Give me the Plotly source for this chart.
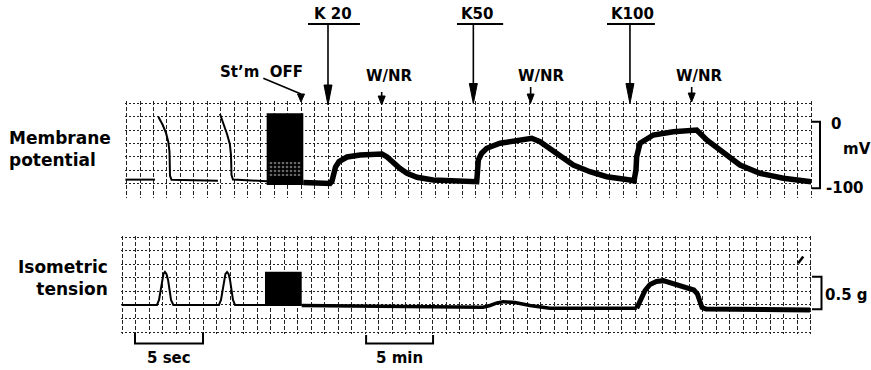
import plotly.graph_objects as go

W, H = 871, 370
FONT = "DejaVu Sans"

# ---------------- data (x in chart-paper divisions) ----------------
# Membrane potential (mV)
mp_fast_x = [-0.1, 2.11, None, 2.355, 2.667, 2.928, 3.100, 3.189, 3.227, 3.338, 6.80, None,
             6.952, 7.213, 7.474, 7.683, 7.772, 7.809, 7.921, 10.43, 13.16]
mp_fast_mv = [-87, -87, None, 7.5, -4.2, -16.8, -30.3, -45.3, -81.1, -87.2, -88.7, None,
              11.6, -2.0, -18.5, -33.5, -50.0, -80.0, -86.8, -89.5, -91.3]
mp_block_x = [10.43, 13.16]
mp_block_mv = [-95.0, 12.6]
mp_speckle_x = [10.55, 13.0]
mp_speckle_mv = [-82.0, -60.0]
mp_k_x = [13.16, 15.15, 15.30, 15.41, 15.56, 15.82, 16.42, 17.39, 18.65, 19.02, 19.40, 19.84,
          20.37, 20.89, 21.63, 22.82, 24.46, 26.08, 26.13, 26.20, 26.45, 26.83, 27.82, 29.06,
          30.18, 30.80, 31.30, 31.79, 32.29, 33.28, 34.52, 35.77, 37.50, 37.80, 37.95, 38.00,
          38.25, 38.75, 39.24, 40.73, 42.22, 42.47, 43.22, 44.46, 45.70, 47.19, 48.93, 51.0]
mp_k_mv = [-91.3, -92.8, -89.0, -78.5, -68.0, -59.8, -53.0, -50.0, -47.4, -48.5, -53.0, -62.0,
           -70.3, -77.5, -83.5, -87.5, -89.8, -90.1, -77.5, -57.5, -47.4, -39.9, -32.4, -27.5,
           -24.9, -30.0, -37.5, -45.0, -52.6, -65.0, -75.1, -82.6, -87.5, -89.0, -72.5, -52.6,
           -32.4, -24.9, -20.0, -15.0, -11.4, -12.5, -27.5, -47.4, -65.0, -77.5, -85.0, -90.1]

# Isometric tension (g)
ten_fast_x = [-0.05, 2.57, 2.72, 2.83, 2.94, 3.05, 3.16, 3.27, 3.39, 3.50, 3.61, 3.78,
              7.16, 7.31, 7.42, 7.53, 7.64, 7.76, 7.87, 7.98, 8.09, 8.20, 8.35, 10.57]
ten_fast_g = [0.066, 0.066, 0.143, 0.296, 0.450, 0.543, 0.572, 0.543, 0.450, 0.296, 0.143, 0.066,
              0.066, 0.143, 0.296, 0.450, 0.543, 0.572, 0.543, 0.450, 0.296, 0.143, 0.066, 0.066]
ten_block_x = [10.57, 13.29]
ten_block_g = [0.05, 0.577]
ten_base_x = [13.29, 20.57, 26.72, 27.24, 27.76, 28.23, 29.09, 30.20, 31.67, 38.11]
ten_base_g = [0.058, 0.043, 0.031, 0.058, 0.097, 0.117, 0.104, 0.058, 0.015, 0.015]
ten_k_x = [38.11, 38.35, 38.72, 39.09, 39.57, 40.07, 40.44, 41.06, 41.80, 42.34, 42.60, 42.75,
           42.94, 43.23, 50.94]
ten_k_g = [0.015, 0.127, 0.288, 0.380, 0.426, 0.439, 0.414, 0.373, 0.331, 0.296, 0.235, 0.112,
           0.028, 0.005, -0.011]
ten_mark_x = [50.07, 50.44]
ten_mark_g = [0.706, 0.808]

# Events (division positions) and labels
k_labels = ["K 20", "K50", "K100"]
k_x = [15.0, 25.83, 37.50]
k_bar = [(13.51, 17.38), (24.61, 28.05), (35.79, 39.36)]
wnr_x = [19.0, 30.1, 42.1]
stim_off_x = 12.99
scale_mv = [0, -100]
scale_g = [0.5, 0.0]
time_bars = [("5 sec", 0.94, 5.98), ("5 min", 18.06, 23.02)]

# ---------------- helpers for layout positions ----------------
def py(p):
    return 1 - p / H

def pxx(p):
    return p / W

DIV_TOP = 13.42

fig = go.Figure()

def line_trace(x, y, xa, ya, width):
    fig.add_trace(go.Scatter(x=x, y=y, mode="lines", xaxis=xa, yaxis=ya,
                             line=dict(color="black", width=width),
                             hoverinfo="skip", showlegend=False, connectgaps=False))

def rect_trace(xs, ys, xa, ya, pattern=None):
    x0, x1 = xs
    y0, y1 = ys
    kw = dict(x=[x0, x1, x1, x0, x0], y=[y0, y0, y1, y1, y0], mode="lines", fill="toself",
              xaxis=xa, yaxis=ya, line=dict(width=0, color="black"),
              hoverinfo="skip", showlegend=False, fillcolor="black")
    if pattern:
        kw["fillpattern"] = pattern
    fig.add_trace(go.Scatter(**kw))

# top panel
line_trace(mp_fast_x, mp_fast_mv, "x", "y", 2)
rect_trace(mp_block_x, mp_block_mv, "x", "y")
rect_trace(mp_speckle_x, mp_speckle_mv, "x", "y",
           pattern=dict(shape=".", bgcolor="black", fgcolor="#d0d0d0", size=4, solidity=0.35))
line_trace(mp_k_x, mp_k_mv, "x", "y", 5.5)

# bottom panel
line_trace(ten_fast_x, ten_fast_g, "x2", "y2", 2)
rect_trace(ten_block_x, ten_block_g, "x2", "y2")
line_trace(ten_base_x, ten_base_g, "x2", "y2", 3.5)
line_trace(ten_k_x, ten_k_g, "x2", "y2", 5)
line_trace(ten_mark_x, ten_mark_g, "x2", "y2", 2.5)

shapes = []
annotations = []

def txt(s, x, y, size=15, xanchor="center", align="center"):
    annotations.append(dict(text=s, x=pxx(x), y=py(y), xref="paper", yref="paper",
                            showarrow=False, xanchor=xanchor, yanchor="middle", align=align,
                            font=dict(family=FONT, size=size, color="black", weight="bold")))

def down_arrow(xd, y_tail, y_tip, head, half, lw=1.6):
    hw = half / DIV_TOP
    shapes.append(dict(type="line", xref="x", yref="paper", x0=xd, x1=xd,
                       y0=py(y_tail), y1=py(y_tip - head * 0.6),
                       line=dict(color="black", width=lw)))
    shapes.append(dict(type="path", xref="x", yref="paper",
                       path=f"M {xd - hw},{py(y_tip - head)} L {xd},{py(y_tip)} L {xd + hw},{py(y_tip - head)} Z",
                       fillcolor="black", line=dict(color="black", width=1)))

# K arrows
k_text_x = [332.5, 477, 632]
k_tips = [105, 103.5, 103.5]
for lab, xd, (b0, b1), tx, tip in zip(k_labels, k_x, k_bar, k_text_x, k_tips):
    txt(lab, tx, 14)
    shapes.append(dict(type="line", xref="x", yref="paper", x0=b0, x1=b1, y0=py(24), y1=py(24),
                       line=dict(color="black", width=2)))
    down_arrow(xd, 24, tip, 20, 4)

# W/NR arrows
wnr_text_x = [389, 541, 699]
wnr_tail = [92, 87, 87]
wnr_tip = [105, 103, 102]
for xd, tx, t0, t1 in zip(wnr_x, wnr_text_x, wnr_tail, wnr_tip):
    txt("W/NR", tx, 75.5)
    down_arrow(xd, t0, t1, 9, 3.5)

# St'm OFF
txt("St\u2019m\u00a0\u00a0OFF", 261.5, 71.5)
shapes.append(dict(type="line", xref="x", yref="paper", x0=10.18, x1=stim_off_x,
                   y0=py(78.3), y1=py(94), line=dict(color="black", width=1.6)))
down_arrow(stim_off_x, 94, 102, 8, 3.5)

# Right scale brackets
shapes.append(dict(type="path", xref="paper", yref="y",
                   path=f"M {pxx(812)},{scale_mv[0]} L {pxx(820)},{scale_mv[0]} L {pxx(820)},{scale_mv[1]} L {pxx(812)},{scale_mv[1]}",
                   line=dict(color="black", width=2)))
shapes.append(dict(type="path", xref="paper", yref="y2",
                   path=f"M {pxx(812)},{scale_g[0]} L {pxx(821.5)},{scale_g[0]} L {pxx(821.5)},{scale_g[1]} L {pxx(812)},{scale_g[1]}",
                   line=dict(color="black", width=2)))
txt("0", 836, 124)
txt("mV", 857, 149)
txt("-100", 845, 187.5)
txt("0.5 g", 846, 294.5)

# Time scale bars
for (lab, a, b), ytop in zip(time_bars, [333, 335]):
    shapes.append(dict(type="path", xref="x2", yref="paper",
                       path=f"M {a},{py(ytop)} L {a},{py(343.5)} L {b},{py(343.5)} L {b},{py(ytop)}",
                       line=dict(color="black", width=2)))
    annotations.append(dict(text=lab, x=(a + b) / 2, y=py(357.5), xref="x2", yref="paper",
                            showarrow=False, xanchor="center", yanchor="middle",
                            font=dict(family=FONT, size=15, color="black", weight="bold")))

# Left labels
txt("Membrane<br>potential", 7, 149, size=17, xanchor="left", align="left")
txt("Isometric<br>tension", 110, 277.5, size=17, xanchor="right", align="right")

grid_x = dict(showgrid=True, gridcolor="#222", gridwidth=1, griddash="4px,2px",
              dtick=1, tick0=0, showticklabels=False, ticks="", zeroline=False, showline=False,
              fixedrange=True)
grid_y = dict(showgrid=True, gridcolor="#222", gridwidth=1, griddash="2px,2px",
              showticklabels=False, ticks="", zeroline=False, showline=False, fixedrange=True)

fig.update_layout(
    width=W, height=H, margin=dict(l=0, r=0, t=0, b=0),
    paper_bgcolor="white", plot_bgcolor="white",
    xaxis=dict(domain=[pxx(125), pxx(813)], range=[-0.127, 51.14], anchor="y", **grid_x),
    yaxis=dict(domain=[py(198), py(101)], range=[-114.6, 31.1], anchor="x",
               tick0=-12.46, dtick=20.27, **grid_y),
    xaxis2=dict(domain=[pxx(121), pxx(812)], range=[-0.096, 51.09], anchor="y2", **grid_x),
    yaxis2=dict(domain=[py(334), py(236)], range=[-0.379, 1.124], anchor="x2",
                tick0=0.273, dtick=0.2071, **grid_y),
    shapes=shapes, annotations=annotations, showlegend=False,
)

fig.write_html("out.html", config={"staticPlot": True},
               post_script="document.body.style.margin='0';document.body.style.overflow='hidden';")
